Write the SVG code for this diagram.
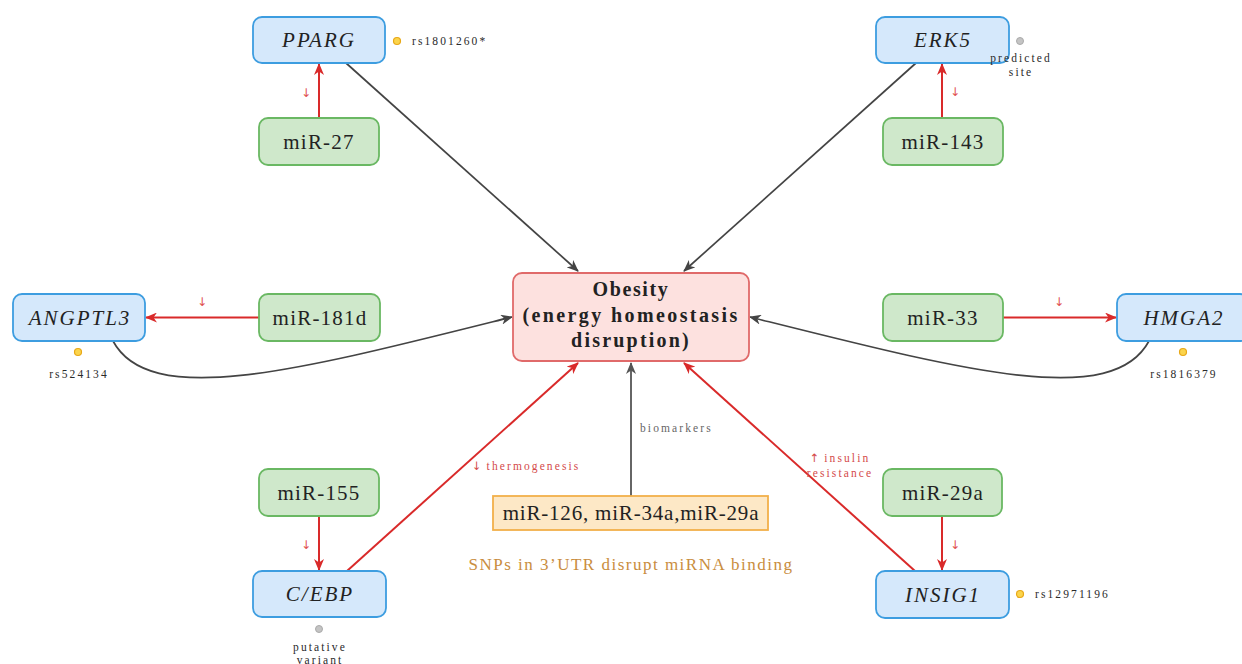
<svg xmlns="http://www.w3.org/2000/svg" width="1242" height="664" viewBox="0 0 1242 664">
<defs>
<marker id="ar" markerUnits="userSpaceOnUse" markerWidth="12" markerHeight="10" refX="11" refY="5" orient="auto"><path d="M0,0 L12,5 L0,10 L3.5,5 z" fill="#d92a2a"/></marker>
<marker id="ak" markerUnits="userSpaceOnUse" markerWidth="12" markerHeight="10" refX="11" refY="5" orient="auto"><path d="M0,0 L12,5 L0,10 L3.5,5 z" fill="#444"/></marker>
<marker id="ag" markerUnits="userSpaceOnUse" markerWidth="12" markerHeight="10" refX="11" refY="5" orient="auto"><path d="M0,0 L12,5 L0,10 L3.5,5 z" fill="#555"/></marker>
</defs>
<style>
.gene rect{fill:#d5e8fb;stroke:#3d9de0;stroke-width:1.8}
.mir rect{fill:#cfe8cb;stroke:#6ab863;stroke-width:1.8}
.gene text{font-family:"Liberation Serif",serif;font-style:italic;font-size:21px;letter-spacing:2px;fill:#222;text-anchor:middle}
.mir text{font-family:"Liberation Serif",serif;font-size:21px;letter-spacing:1.2px;fill:#222;text-anchor:middle}
.red{stroke:#d92a2a;stroke-width:2;fill:none;marker-end:url(#ar)}
.blk{stroke:#444;stroke-width:1.7;fill:none;marker-end:url(#ak)}
.gry{stroke:#666;stroke-width:2;fill:none;marker-end:url(#ag)}
.sm{font-family:"Liberation Serif",serif;font-size:11.5px;letter-spacing:2.1px;fill:#2a2a2a}
.dn{font-family:"DejaVu Sans",sans-serif;font-size:12px;fill:#e05050;text-anchor:middle}
.ydot{fill:#fbd44c;stroke:#e8a817;stroke-width:1.2}
.gdot{fill:#c4c4c4;stroke:#aaa;stroke-width:1}
</style>
<rect width="1242" height="664" fill="#fff"/>

<g id="connectors">
<line class="red" x1="319" y1="118" x2="319" y2="64"/>
<line class="red" x1="942" y1="118" x2="942" y2="64"/>
<line class="red" x1="259" y1="317.5" x2="146" y2="317.5"/>
<line class="red" x1="1003" y1="317.5" x2="1116" y2="317.5"/>
<line class="red" x1="319" y1="516" x2="319" y2="570"/>
<line class="red" x1="942" y1="516" x2="942" y2="570"/>
<line class="blk" x1="346" y1="63" x2="578" y2="271"/>
<line class="blk" x1="916" y1="63" x2="684" y2="271"/>
<path class="blk" d="M113,341 C150,410 300,370 512,317"/>
<path class="blk" d="M1149,341 C1112,410 962,370 750,317"/>
<line class="red" x1="347" y1="571" x2="578" y2="363"/>
<line class="red" x1="915" y1="571" x2="684" y2="363"/>
<line class="gry" x1="631" y1="496" x2="631" y2="363"/>
<text class="dn" x="306" y="97">↓</text>
<text class="dn" x="955" y="96">↓</text>
<text class="dn" x="202" y="306">↓</text>
<text class="dn" x="1059" y="306">↓</text>
<text class="dn" x="306" y="549">↓</text>
<text class="dn" x="955" y="549">↓</text>
<text class="sm" x="472" y="470" style="fill:#d44a4a"><tspan style="font-family:'DejaVu Sans',sans-serif;letter-spacing:0">↓</tspan> thermogenesis</text>
<text class="sm" x="840" y="462" text-anchor="middle" style="fill:#d44a4a"><tspan style="font-family:'DejaVu Sans',sans-serif;letter-spacing:0">↑</tspan> insulin</text>
<text class="sm" x="840" y="477" text-anchor="middle" style="fill:#d44a4a">resistance</text>
<text class="sm" x="640" y="432" style="fill:#666">biomarkers</text>
</g>

<g id="PPARG" class="gene"><rect x="253" y="17" width="132" height="46" rx="9"/><text x="319" y="47">PPARG</text></g>
<g id="miR-27" class="mir"><rect x="259" y="118" width="120" height="47" rx="9"/><text x="319" y="149">miR-27</text></g>
<g id="ERK5" class="gene"><rect x="876" y="17" width="133" height="46" rx="9"/><text x="943" y="47">ERK5</text></g>
<g id="miR-143" class="mir"><rect x="883" y="118" width="120" height="47" rx="9"/><text x="943" y="149">miR-143</text></g>
<g id="ANGPTL3" class="gene"><rect x="13" y="294" width="132" height="47" rx="9"/><text x="80" y="325">ANGPTL3</text></g>
<g id="miR-181d" class="mir"><rect x="259" y="294" width="121" height="47" rx="9"/><text x="320" y="325">miR-181d</text></g>
<g id="miR-33" class="mir"><rect x="883" y="294" width="120" height="47" rx="9"/><text x="943" y="325">miR-33</text></g>
<g id="HMGA2" class="gene"><rect x="1117" y="294" width="132" height="47" rx="9"/><text x="1184" y="325">HMGA2</text></g>
<g id="miR-155" class="mir"><rect x="259" y="469" width="120" height="47" rx="9"/><text x="319" y="500">miR-155</text></g>
<g id="CEBP" class="gene"><rect x="253" y="571" width="133" height="46" rx="9"/><text x="320" y="601">C/EBP</text></g>
<g id="miR-29a" class="mir"><rect x="883" y="469" width="119" height="47" rx="9"/><text x="943" y="500">miR-29a</text></g>
<g id="INSIG1" class="gene"><rect x="876" y="571" width="133" height="47" rx="9"/><text x="943" y="602">INSIG1</text></g>

<g id="obesity">
<rect x="513" y="273" width="236" height="88" rx="9" fill="#fde1df" stroke="#e06a6a" stroke-width="1.8"/>
<g font-family="Liberation Serif, serif" font-weight="bold" font-size="20" fill="#222" text-anchor="middle">
<text x="631" y="296" letter-spacing="1.6">Obesity</text>
<text x="631" y="322" letter-spacing="2.4">(energy homeostasis</text>
<text x="631" y="347" letter-spacing="2.2">disruption)</text>
</g>
</g>

<g id="biomarkers">
<rect x="493" y="496" width="275" height="34" fill="#fde8c6" stroke="#f2b04a" stroke-width="1.8"/>
<text x="631" y="520" font-family="Liberation Serif, serif" font-size="21" letter-spacing="0.8" fill="#222" text-anchor="middle">miR-126, miR-34a,miR-29a</text>
</g>

<text id="note" x="631" y="570" font-family="Liberation Serif, serif" font-size="17" letter-spacing="1.5" fill="#c98d3e" text-anchor="middle">SNPs in 3’UTR disrupt miRNA binding</text>

<g id="snps">
<circle class="ydot" cx="397" cy="41" r="3.5"/><text class="sm" x="412" y="45">rs1801260*</text>
<circle class="gdot" cx="1020" cy="41" r="3.5"/><text class="sm" x="1021" y="62" text-anchor="middle">predicted</text><text class="sm" x="1021" y="76" text-anchor="middle">site</text>
<circle class="ydot" cx="78" cy="352" r="3.5"/><text class="sm" x="79" y="378" text-anchor="middle">rs524134</text>
<circle class="ydot" cx="1183" cy="352" r="3.5"/><text class="sm" x="1184" y="378" text-anchor="middle">rs1816379</text>
<circle class="gdot" cx="319" cy="629" r="3.5"/><text class="sm" x="320" y="651" text-anchor="middle">putative</text><text class="sm" x="320" y="664" text-anchor="middle">variant</text>
<circle class="ydot" cx="1020" cy="594" r="3.5"/><text class="sm" x="1035" y="598">rs12971196</text>
</g>
</svg>
